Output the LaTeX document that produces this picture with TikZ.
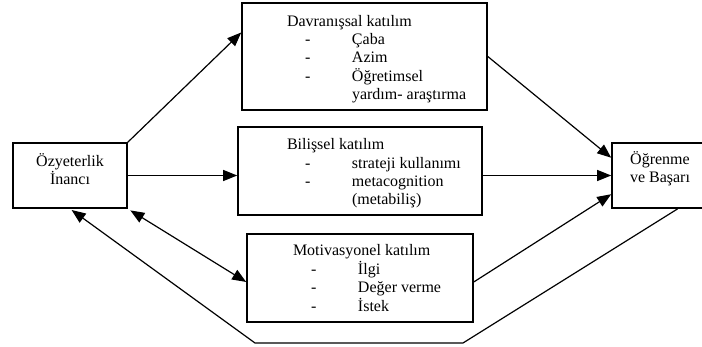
\documentclass[tikz,border=0pt]{standalone}
\usepackage{fontspec}
\setmainfont{Liberation Serif}
\usetikzlibrary{arrows.meta, positioning, calc}

\newlength{\lpad}
\newcommand{\hd}[1]{\hspace*{\lpad}#1}
\newcommand{\itm}[1]{\hspace*{\lpad}\hspace*{18pt}\makebox[47pt][l]{-}#1}
\newcommand{\cnt}[1]{\hspace*{\lpad}\hspace*{65pt}#1}
% text block, raised or lowered inside its box
\newcommand{\lift}[3]{\raisebox{#1}[\height][\depth]{\parbox{#2}{#3}}}

\begin{document}
\begin{tikzpicture}[
    x=1pt, y=-1pt,
    font=\fontsize{16}{18.4}\selectfont,
    box/.style={rectangle, draw, line width=1.6pt, inner sep=0pt, minimum height=65pt},
    list/.style={box, minimum width=#1},
    lpad/.code={\setlength{\lpad}{#1}},
    arrow/.style={->, >={Triangle[length=14pt, width=11pt]}, line width=1.2pt}
]
\useasboundingbox (0,0) rectangle (702,347);

\node[box, minimum width=114pt] (ozy) at (70,175.5) {\lift{6.5pt}{114pt}{\centering Özyeterlik\\İnancı}};
\node[box, minimum width=96pt] (ogr) at (660,175.5) {\lift{6.5pt}{96pt}{\centering Öğrenme\\ve Başarı}};

\node[list=245pt, lpad=45pt, minimum height=107pt] (dav) at (364.5,56.5)
    {\lift{-2.5pt}{245pt}{\raggedright\hd{Davranışsal katılım}\\ \itm{Çaba}\\ \itm{Azim}\\ \itm{Öğretimsel}\\ \cnt{yardım- araştırma}}};
\node[list=244pt, lpad=49pt, minimum height=88pt] (bil) at (360,171)
    {\lift{-2.5pt}{244pt}{\raggedright\hd{Bilişsel katılım}\\ \itm{strateji kullanımı}\\ \itm{metacognition}\\ \cnt{(metabiliş)}}};
\node[list=226pt, lpad=46pt, minimum height=88pt] (mot) at (360,278)
    {\lift{0pt}{226pt}{\raggedright\hd{Motivasyonel katılım}\\ \itm{İlgi}\\ \itm{Değer verme}\\ \itm{İstek}}};

% geri bildirim dongusu
\coordinate (loopR) at (463,343);
\coordinate (loopL) at (255,343);

\draw[arrow] (ozy.north east) -- (dav.169);
\draw[arrow] (ozy.east) -- (ozy.east -| bil.west);
\draw[arrow, <->, shorten <=3pt] (ozy.south east) -- (mot.182);
\draw[arrow] (dav.east) -- (ogr.160);
\draw[arrow] (bil.east |- ogr.west) -- (ogr.west);
\draw[arrow] (mot.358) -- (ogr.201);
\draw[arrow, shorten >=2pt] (ogr.298) -- (loopR) -- (loopL) -- (ozy.south);
\end{tikzpicture}
\end{document}
